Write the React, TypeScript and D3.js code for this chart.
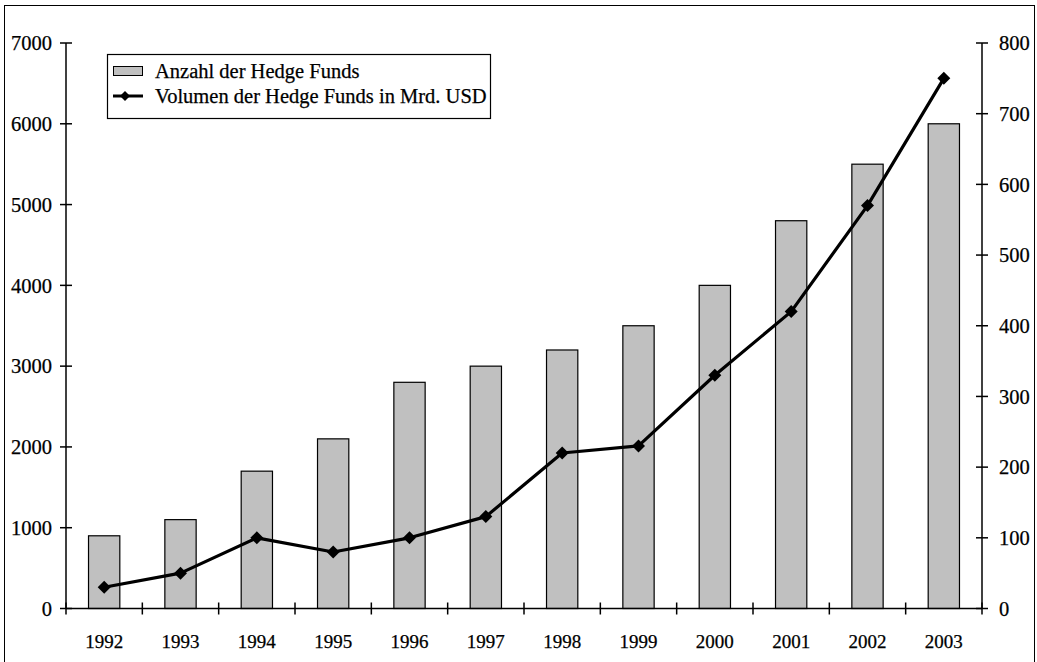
import React from "react";
import * as d3 from "d3";

const years = ["1992","1993","1994","1995","1996","1997","1998","1999","2000","2001","2002","2003"];
const fundCount = [900,1100,1700,2100,2800,3000,3200,3500,4000,4800,5500,6000];
const volume = [30,50,100,80,100,130,220,230,330,420,570,750];
const leftTicks = [0,1000,2000,3000,4000,5000,6000,7000];
const rightTicks = [0,100,200,300,400,500,600,700,800];
const legendLabels = ["Anzahl der Hedge Funds","Volumen der Hedge Funds in Mrd. USD"];

const W = 1037, H = 662;
const left = 66, right = 982, top = 43, bottom = 608.5;
const font = "'Liberation Serif', 'Times New Roman', serif";

export default function App() {
  const x = d3.scaleBand<string>().domain(years).range([left, right]).paddingInner(0.59).paddingOuter(0.295);
  const band = d3.scaleBand<string>().domain(years).range([left, right]);
  const yL = d3.scaleLinear().domain([0, 7000]).range([bottom, top]);
  const yR = d3.scaleLinear().domain([0, 800]).range([bottom, top]);
  const line = d3.line<number>().x((_, i) => band(years[i])! + band.bandwidth() / 2).y(d => yR(d));
  const diamond = (cx: number, cy: number, r = 6.5) => `M${cx},${cy - r}L${cx + r},${cy}L${cx},${cy + r}L${cx - r},${cy}Z`;
  const tickX = years.map((_, i) => left + i * band.step()).concat([right]);
  const txt = { fontFamily: font, stroke: "#000", strokeWidth: 0.25 } as const;

  return (
    <div style={{ position: "absolute", left: 0, top: 0 }}>
      <svg width={W} height={H} style={{ display: "block", background: "#fff" }}>
        <rect x={4.5} y={5.5} width={1030} height={670} fill="#fff" stroke="#000" strokeWidth={1} />
        {years.map((yr, i) => (
          <rect key={yr} x={x(yr)!} y={yL(fundCount[i])} width={x.bandwidth()} height={bottom - yL(fundCount[i])}
            fill="#c0c0c0" stroke="#000" strokeWidth={1.2} />
        ))}
        {/* left axis */}
        <line x1={left} x2={left} y1={top} y2={bottom} stroke="#000" strokeWidth={1.5} />
        {leftTicks.map(t => (
          <g key={t}>
            <line x1={left - 6} x2={left + 6} y1={yL(t)} y2={yL(t)} stroke="#000" strokeWidth={1.5} />
            <text x={52} y={yL(t)} dy="0.35em" textAnchor="end" fontSize={20.5} {...txt}>{t}</text>
          </g>
        ))}
        {/* right axis */}
        <line x1={right} x2={right} y1={top} y2={bottom} stroke="#000" strokeWidth={1.5} />
        {rightTicks.map(t => (
          <g key={t}>
            <line x1={right - 6} x2={right + 6} y1={yR(t)} y2={yR(t)} stroke="#000" strokeWidth={1.5} />
            <text x={999} y={yR(t)} dy="0.35em" textAnchor="start" fontSize={20.5} {...txt}>{t}</text>
          </g>
        ))}
        {/* x axis */}
        <line x1={left} x2={right} y1={bottom} y2={bottom} stroke="#000" strokeWidth={1.5} />
        {tickX.map((tx, i) => (
          <line key={i} x1={tx} x2={tx} y1={bottom - 6} y2={bottom + 6} stroke="#000" strokeWidth={1.5} />
        ))}
        {years.map(yr => (
          <text key={yr} x={band(yr)! + band.bandwidth() / 2} y={648} textAnchor="middle" fontSize={19} {...txt}>{yr}</text>
        ))}
        {/* line series */}
        <path d={line(volume)!} fill="none" stroke="#000" strokeWidth={3.2} strokeLinejoin="round" />
        {volume.map((v, i) => (
          <path key={i} d={diamond(band(years[i])! + band.bandwidth() / 2, yR(v))} fill="#000" />
        ))}
        {/* legend */}
        <rect x={107.5} y={54.5} width={383} height={64} fill="#fff" stroke="#000" strokeWidth={1.2} />
        <rect x={113.5} y={66.5} width={29} height={9} fill="#c0c0c0" stroke="#000" strokeWidth={1} />
        <text x={155} y={78} fontSize={20.5} {...txt}>{legendLabels[0]}</text>
        <line x1={113} x2={143} y1={96} y2={96} stroke="#000" strokeWidth={3} />
        <path d={diamond(125, 96, 5)} fill="#000" />
        <text x={155} y={103} fontSize={20.5} {...txt}>{legendLabels[1]}</text>
      </svg>
    </div>
  );
}
